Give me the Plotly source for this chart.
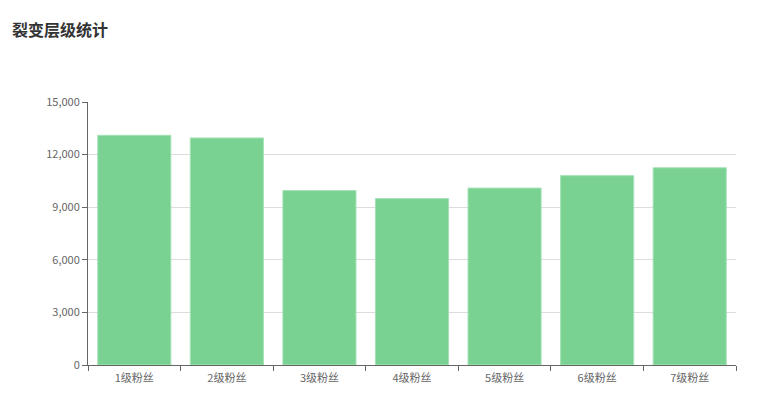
import plotly.graph_objects as go

categories = ["1级粉丝", "2级粉丝", "3级粉丝", "4级粉丝", "5级粉丝", "6级粉丝", "7级粉丝"]
values = [13100, 12950, 9950, 9490, 10090, 10800, 11250]
title_text = "裂变层级统计"

FONT = "Microsoft YaHei, Noto Sans CJK SC, sans-serif"

fig = go.Figure(go.Bar(
    x=categories, y=values,
    marker=dict(color="#7ad292", line=dict(color="#a6e2b6", width=1)),
    hoverinfo="x+y",
))
fig.update_layout(
    width=781, height=407,
    margin=dict(l=80, r=53, t=94, b=50),
    paper_bgcolor="white", plot_bgcolor="white",
    bargap=0.21,
    showlegend=False,
    title=dict(text="<b>" + title_text + "</b>", x=4/781, xref="container", xanchor="left",
               y=1-22/407, yanchor="middle",
               font=dict(family=FONT, size=16, color="#333")),
    font=dict(family=FONT, size=12, color="#666"),
)
fig.update_xaxes(
    showline=True, linecolor="#666", linewidth=1,
    ticks="outside", ticklen=5, tickcolor="#666", tickson="boundaries",
    tickfont=dict(size=11, color="#666"), ticklabelstandoff=3,
    showgrid=False,
)
fig.update_yaxes(
    range=[0, 15000], tickvals=[0, 3000, 6000, 9000, 12000, 15000],
    tickformat=",", showline=True, linecolor="#666", linewidth=1,
    ticks="outside", ticklen=5, tickcolor="#666",
    showgrid=True, gridcolor="#ddd", zeroline=False,
    tickfont=dict(size=11, color="#666"),
)
fig.write_html("out.html")
